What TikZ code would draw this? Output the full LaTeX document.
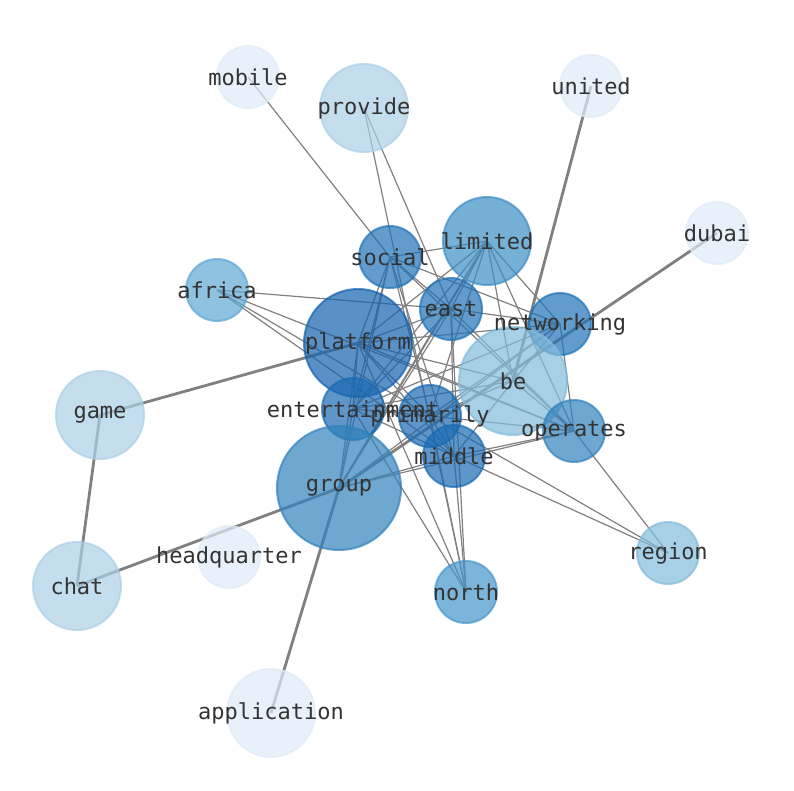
\documentclass[tikz,border=0pt]{standalone}
\usepackage{fontspec}
\newfontfamily\lblfont{DejaVu Sans Mono}
\pgfdeclarelayer{bg}
\pgfsetlayers{bg,main}
\definecolor{cA}{HTML}{DEEBF7}
\definecolor{cB}{HTML}{ABD0E6}
\definecolor{cC}{HTML}{82BBDB}
\definecolor{cD}{HTML}{5FA6D3}
\definecolor{cE}{HTML}{4595CA}
\definecolor{cF}{HTML}{3B8EC5}
\definecolor{cG}{HTML}{3081BC}
\definecolor{cH}{HTML}{1F72B6}
\definecolor{cI}{HTML}{1361AE}
\definecolor{cJ}{HTML}{1A6AB2}
\definecolor{edgegray}{HTML}{808080}
\definecolor{txt}{HTML}{333333}
\tikzset{
  nd/.style 2 args={circle, inner sep=0pt, outer sep=0pt, minimum size=#1pt,
     fill=#2, draw=#2, line width=2pt, fill opacity=0.7, draw opacity=0.7},
  lbl/.style={inner sep=0pt, text=txt, font=\lblfont\fontsize{22}{24}\selectfont},
  thinedge/.style={draw=edgegray, line width=1.2pt},
  midedge/.style={draw=edgegray, line width=2pt},
  thickedge/.style={draw=edgegray, line width=2.8pt},
}
\begin{document}
\begin{tikzpicture}[x=1pt,y=-1pt]
\useasboundingbox (0,0) rectangle (794,790);
% nodes
\node[nd={62}{cA}] (mobile) at (248,77) {};
\node[nd={88}{cB}] (provide) at (364,108) {};
\node[nd={62}{cA}] (united) at (591,86) {};
\node[nd={62}{cA}] (dubai) at (717,233) {};
\node[nd={88}{cF}] (limited) at (487,241) {};
\node[nd={62}{cH}] (social) at (390,257) {};
\node[nd={62}{cD}] (africa) at (217,290) {};
\node[nd={62}{cH}] (east) at (451,309) {};
\node[nd={62}{cH}] (networking) at (560,324) {};
\node[nd={108}{cI}] (platform) at (358,343) {};
\node[nd={108}{cC}] (be) at (513,381) {};
\node[nd={88}{cB}] (game) at (100,415) {};
\node[nd={62}{cJ}] (entertainment) at (353,409) {};
\node[nd={62}{cJ}] (primarily) at (430,416) {};
\node[nd={62}{cG}] (operates) at (574,431) {};
\node[nd={62}{cJ}] (middle) at (454,456) {};
\node[nd={124}{cG}] (group) at (339,488) {};
\node[nd={62}{cA}] (headquarter) at (229,557) {};
\node[nd={88}{cB}] (chat) at (77,586) {};
\node[nd={62}{cC}] (region) at (668,553) {};
\node[nd={62}{cE}] (north) at (466,592) {};
\node[nd={88}{cA}] (application) at (271,713) {};
% edges
\begin{pgfonlayer}{bg}
\foreach \a/\b in {united/be, dubai/group, game/platform, game/chat, chat/group, group/application}
  \draw[thickedge] (\a.center) -- (\b.center);
\draw[midedge] (limited.center) -- (group.center);
\foreach \a/\b in {mobile/social, provide/east, provide/north,
  africa/east, africa/operates, africa/primarily, africa/middle,
  social/limited, social/east, social/networking, social/operates, social/entertainment,
  social/group, social/primarily, social/middle, social/platform,
  limited/east, limited/platform, limited/entertainment, limited/primarily, limited/be,
  limited/networking, limited/operates,
  east/platform, east/networking, east/operates, east/middle, east/north, east/group, east/entertainment,
  platform/networking, platform/be, platform/entertainment, platform/primarily, platform/middle,
  platform/operates, platform/north, platform/group,
  networking/be, networking/operates, networking/entertainment, networking/primarily, networking/group,
  be/operates, be/primarily, be/middle, be/entertainment,
  entertainment/primarily, entertainment/middle, entertainment/north, entertainment/group,
  primarily/middle, primarily/region, primarily/operates, primarily/north,
  middle/operates, middle/north, middle/region, middle/group,
  group/operates, operates/region}
  \draw[thinedge] (\a.center) -- (\b.center);
\end{pgfonlayer}
% labels
\foreach \n in {mobile, provide, united, dubai, limited, social, africa, east, networking,
  platform, be, game, entertainment, primarily, operates, middle, group, headquarter,
  chat, region, north, application}
  \node[lbl] (t-\n) at (\n.center) {\n};
\end{tikzpicture}
\end{document}
